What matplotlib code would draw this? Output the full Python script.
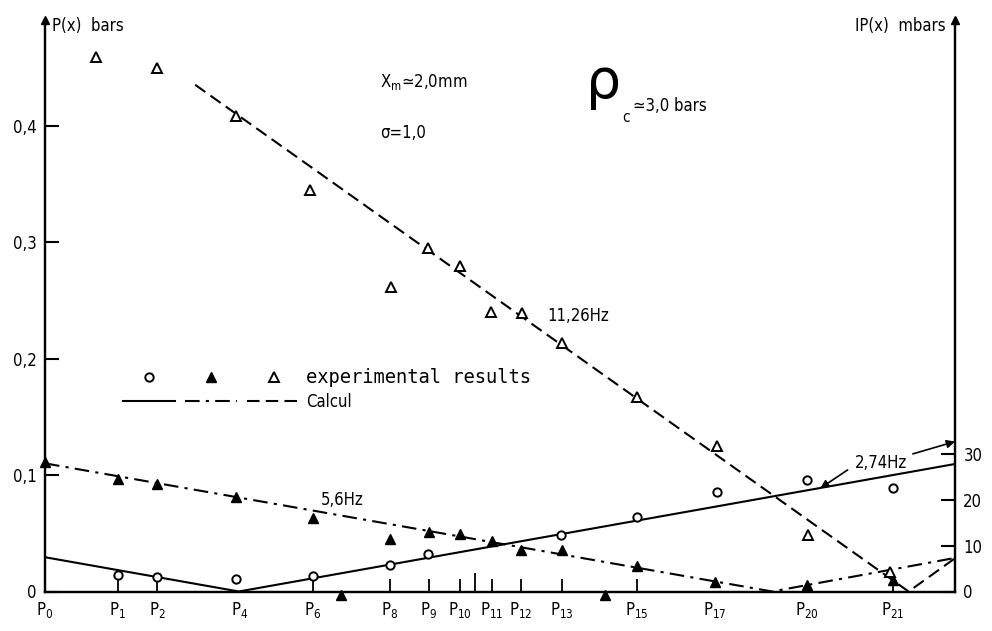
import matplotlib.pyplot as plt
from matplotlib.lines import Line2D
from matplotlib.legend_handler import HandlerTuple

plt.rcParams['font.family'] = 'DejaVu Sans'
plt.rcParams['font.stretch'] = 'condensed'
plt.rcParams['mathtext.default'] = 'regular'
plt.rcParams['font.size'] = 12

# sensor positions along the duct (P0 at the origin, closed end at 100)
p_labels = ['P$_0$', 'P$_1$', 'P$_2$', 'P$_4$', 'P$_6$', 'P$_8$', 'P$_9$', 'P$_{10}$',
            'P$_{11}$', 'P$_{12}$', 'P$_{13}$', 'P$_{15}$', 'P$_{17}$', 'P$_{20}$', 'P$_{21}$']
p_pos = [0, 8.0, 12.3, 21.4, 29.4, 37.9, 42.2, 45.6, 49.1, 52.3, 56.8, 65.0, 73.6, 83.7, 93.2]
stem_pos = [8.0, 12.3, 29.4, 37.9, 42.2, 45.6, 49.1, 52.3, 56.8, 65.0, 93.2]
tall_stem = [47.3]

# measured amplitudes
x_274 = [8.0, 12.3, 21.0, 29.4, 37.9, 42.1, 56.7, 65.0, 73.8, 83.7, 93.2]
y_274 = [3.6, 3.1, 2.7, 3.5, 5.8, 8.2, 12.4, 16.2, 21.8, 24.4, 22.6]        # mbar

x_56 = [0, 8.0, 12.3, 21.0, 29.4, 32.5, 37.9, 42.2, 45.6, 49.1, 52.3, 56.8,
        61.5, 65.0, 73.6, 83.7, 93.2]
y_56 = [0.111, 0.097, 0.092, 0.081, 0.063, -0.003, 0.045, 0.051, 0.049, 0.043,
        0.036, 0.036, -0.003, 0.022, 0.008, 0.006, 0.010]                  # bar

x_1126 = [5.6, 12.3, 21.0, 29.1, 38.0, 42.1, 45.6, 49.0, 52.4, 56.8, 65.1, 73.8, 83.8, 92.9]
y_1126 = [0.459, 0.449, 0.408, 0.345, 0.261, 0.295, 0.279, 0.240, 0.239, 0.213,
          0.167, 0.125, 0.0485, 0.0167]                                     # bar

# calculated amplitude profiles
calc_274_x = [0, 21.3, 100]
calc_274_y = [7.5, 0, 27.9]        # mbar
calc_56_x = [0, 79.9, 100]
calc_56_y = [0.110, 0, 0.0288]     # bar
calc_1126_x = [16.5, 94.9, 100]
calc_1126_y = [0.435, 0, 0.0285]   # bar

y_ticks = [0, 0.1, 0.2, 0.3, 0.4]
y_ticklabels = ['0', '0,1', '0,2', '0,3', '0,4']
y2_ticks = [0, 10, 20, 30]

solid = '-'
dashdot = (0, (7, 3, 1.5, 3))
dashed = (0, (6, 3))
lw = 1.5

fig = plt.figure(figsize=(9.92, 6.31), dpi=100)
ax = fig.add_axes([45 / 992, 39.5 / 631, 910 / 992, 571.5 / 631])
ax2 = ax.twinx()

ax.set_xlim(0, 100)
ax.set_ylim(0, 0.4906)
ax2.set_ylim(0, 125.05)

for a in (ax, ax2):
    a.spines['top'].set_visible(False)
    for s in ('left', 'right', 'bottom'):
        a.spines[s].set_linewidth(1.6)

ax.plot(calc_56_x, calc_56_y, color='k', lw=lw, ls=dashdot)
ax.plot(calc_1126_x, calc_1126_y, color='k', lw=lw, ls=dashed)
ax2.plot(calc_274_x, calc_274_y, color='k', lw=lw, ls=solid)

ax.plot(x_56, y_56, ls='none', marker='^', color='k', ms=7, clip_on=False, zorder=5)
ax.plot(x_1126, y_1126, ls='none', marker='^', mfc='white', mec='k', mew=1.4, ms=7,
        clip_on=False, zorder=5)
ax2.plot(x_274, y_274, ls='none', marker='o', mfc='white', mec='k', mew=1.4, ms=6,
         clip_on=False, zorder=5)

# axes: ticks inside, comma decimals, sensor names under the abscissa
ax.set_yticks(y_ticks, y_ticklabels)
ax2.set_yticks(y2_ticks)
ax.tick_params(axis='y', direction='in', length=10, width=1.5, pad=6)
ax2.tick_params(axis='y', direction='in', length=10, width=1.5, pad=6)
ax.set_xticks(p_pos, p_labels)
ax.tick_params(axis='x', which='major', length=0, pad=6)
ax.xaxis.remove_overlapping_locs = False
ax.set_xticks(stem_pos, minor=True)
ax.tick_params(axis='x', which='minor', direction='in', length=9.5, width=1.3)
ax.vlines(tall_stem, 0, 0.016, color='k', lw=1.3)

# arrow heads on both ordinates
ax.plot([0], [1], marker='^', color='k', ms=6, transform=ax.transAxes, clip_on=False)
ax.plot([1], [1], marker='^', color='k', ms=6, transform=ax.transAxes, clip_on=False)
ax.text(0.008, 0.99, 'P(x)  bars', transform=ax.transAxes, ha='left', va='center')
ax.text(0.99, 0.99, 'IP(x)  mbars', transform=ax.transAxes, ha='right', va='center')

ax.text(36.8, 0.437, 'X$_m$\u22432,0mm', ha='left', va='center')
ax.text(36.8, 0.394, '\u03c3=1,0', ha='left', va='center')
ax.text(59.4, 0.4235, '\u03c1', fontsize=40, fontstretch='normal', ha='left', va='baseline')
ax.text(63.4, 0.4065, 'c', fontsize=11, ha='left', va='center')
ax.text(64.6, 0.4167, '\u22433,0 bars', ha='left', va='center')

ax.text(32.7, 0.0785, '5,6Hz', ha='center', va='center')
ax.text(58.6, 0.2365, '11,26Hz', ha='center', va='center')
ax2.annotate('2,74Hz', xy=(100, 32.8), xytext=(91.9, 28.1), ha='center', va='center',
             arrowprops=dict(arrowstyle='-|>', color='k', lw=1.2, shrinkA=2, shrinkB=0))
ax2.annotate('', xy=(85.2, 22.6), xytext=(88.2, 26.6),
             arrowprops=dict(arrowstyle='-|>', color='k', lw=1.2, shrinkA=0, shrinkB=0))

# key: measured symbols on one row, calculated line styles on the next
h_circ = Line2D([], [], ls='none', marker='o', mfc='white', mec='k', mew=1.4, ms=6)
h_ftri = Line2D([], [], ls='none', marker='^', color='k', ms=7)
h_otri = Line2D([], [], ls='none', marker='^', mfc='white', mec='k', mew=1.4, ms=7)
h_solid = Line2D([], [], color='k', lw=lw, ls=solid)
h_dd = Line2D([], [], color='k', lw=lw, ls=dashdot)
h_dash = Line2D([], [], color='k', lw=lw, ls=dashed)
leg = ax.legend([(h_circ, h_ftri, h_otri), (h_solid, h_dd, h_dash)],
                ['experimental results', 'Calcul'],
                handler_map={tuple: HandlerTuple(ndivide=None, pad=0.6)},
                handlelength=10.6, handletextpad=0.4, labelspacing=0.35,
                frameon=False, borderpad=0, borderaxespad=0, loc='upper left',
                bbox_to_anchor=(123 / 992, 1 - 368 / 631), bbox_transform=fig.transFigure)
leg.get_texts()[0].set_family('DejaVu Sans Mono')
leg.get_texts()[0].set_fontsize(13.5)

fig.savefig('out.png', dpi=100)
